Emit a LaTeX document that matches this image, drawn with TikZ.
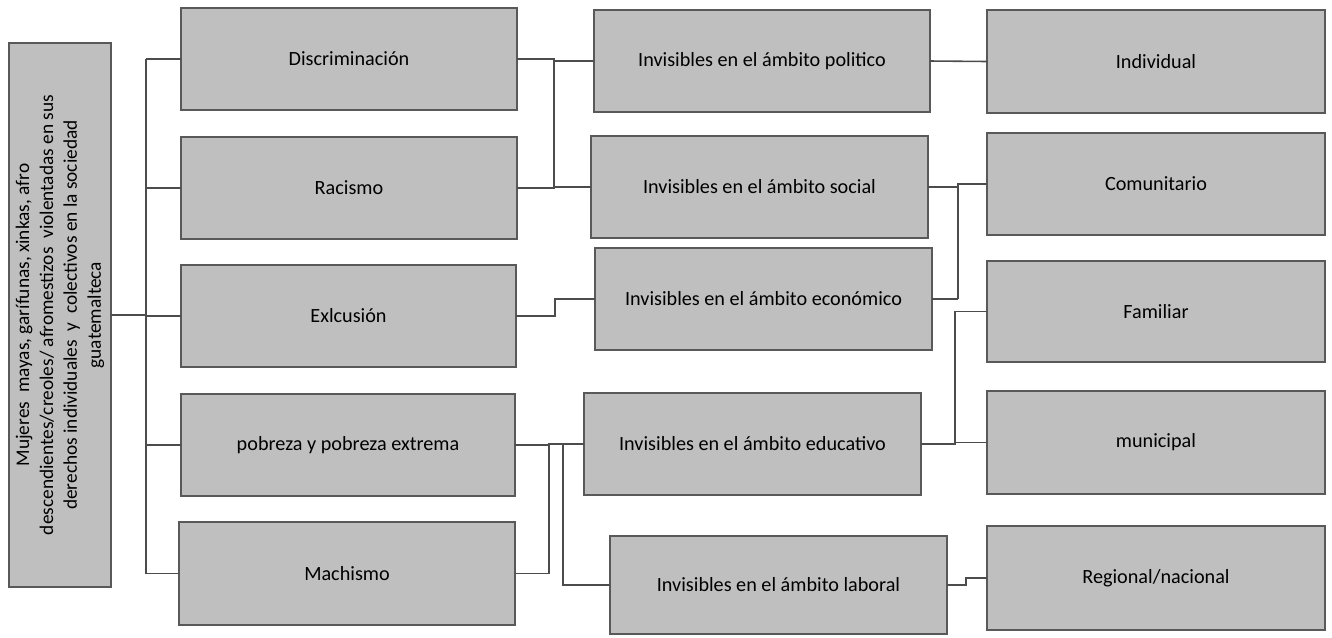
\documentclass[tikz,border=0pt]{standalone}
\usepackage{fontspec}
\setmainfont{Carlito}
\newcommand\mybox[6]{\node[box, minimum width={(#4-#2)*0.02cm}, minimum height={(#5-#3)*0.02cm}] (#1) at ({(#2+#4)/2},{(#3+#5)/2}) {#6};}
\begin{document}
\begin{tikzpicture}[x=0.02cm,y=-0.02cm,
  box/.style={draw=black!65, line width=0.8pt, fill=gray!50, inner sep=2pt, outer sep=0pt,
    font=\fontsize{11.5}{13.8}\selectfont, align=center},
  link/.style={draw=black!70, line width=0.9pt}]
\useasboundingbox (0,0) rectangle (1332,637);
% left box
\node[box, rotate=90, minimum width={544*0.02cm}, minimum height={102*0.02cm},
      font=\fontsize{11}{13.6}\selectfont] (L) at (60,315)
 {Mujeres\ \ mayas, garífunas, xinkas, afro\\
  descendientes/creoles/ afromestizos\ \ violentadas en sus\\
  derechos individuales\ \ y\ \ colectivos en la sociedad\\
  guatemalteca};
% column A
\mybox{A1}{181}{8}{517}{110}{Discriminación}
\mybox{A2}{181}{137}{517}{239}{Racismo}
\mybox{A3}{181}{265}{516}{367}{Exlcusión}
\mybox{A4}{181}{394}{515}{496}{pobreza y pobreza extrema}
\mybox{A5}{179}{522}{515}{625}{Machismo}
% column B
\mybox{B1}{594}{10}{930}{112}{Invisibles en el ámbito politico}
\mybox{B2}{591}{136}{928}{238}{Invisibles en el ámbito social}
\mybox{B3}{595}{248}{932}{350}{Invisibles en el ámbito económico}
\mybox{B4}{584}{393}{921}{495}{Invisibles en el ámbito educativo}
\mybox{B5}{610}{536}{947}{634}{Invisibles en el ámbito laboral}
% column C
\mybox{C1}{987}{10}{1325}{113}{Individual}
\mybox{C2}{987}{133}{1325}{235}{Comunitario}
\mybox{C3}{987}{261}{1325}{362}{Familiar}
\mybox{C4}{987}{391}{1325}{494}{municipal}
\mybox{C5}{987}{526}{1325}{630}{Regional/nacional}
% junction x positions
\coordinate (t) at (146,0);
\coordinate (j1) at (554,0);
\coordinate (j3) at (555,0);
\coordinate (j4) at (549,0);
\coordinate (j5) at (563,0);
\coordinate (k2) at (958,0);
\coordinate (k4) at (955,0);
\coordinate (k5) at (966,0);
% connectors
\draw[link] (L.south) -- (L.south -| t);
\draw[link] (A1.west -| t) -- (A5.west -| t);
\foreach \n in {A1,A2,A3,A4,A5} \draw[link] (\n.west -| t) -- (\n.west);
\draw[link] (A1.east) -- (A1.east -| j1) -- (A2.east -| j1) -- (A2.east);
\draw[link] (B1.west -| j1) -- (B1.west);
\draw[link] (B2.west -| j1) -- (B2.west);
\draw[link] (A3.east) -- (A3.east -| j3) -- (B3.west -| j3) -- (B3.west);
\draw[link] (A4.east) -- (A4.east -| j4);
\draw[link] (A5.east) -- (A5.east -| j4) -- (B4.west -| j4) -- (B4.west);
\draw[link] (B4.west -| j5) -- (B5.west -| j5) -- (B5.west);
\draw[link] (B1.east) -- (C1.west);
\draw[link] (B2.east) -- (B2.east -| k2);
\draw[link] (B3.east) -- (B3.east -| k2);
\draw[link] (C2.west) -- (C2.west -| k2) -- (B3.east -| k2);
\draw[link] (B4.east) -- (B4.east -| k4) -- (C3.west -| k4) -- (C3.west);
\draw[link] (C4.west -| k4) -- (C4.west);
\draw[link] (B5.east) -- (B5.east -| k5) -- (C5.west -| k5) -- (C5.west);
\end{tikzpicture}
\end{document}
